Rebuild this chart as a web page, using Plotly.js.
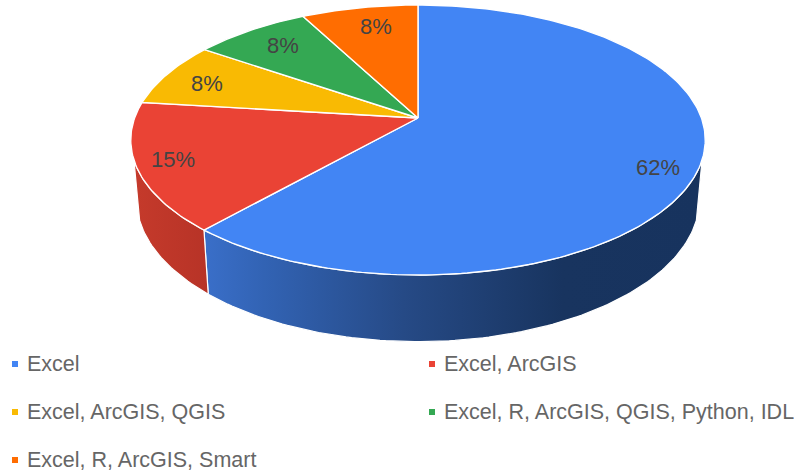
<!DOCTYPE html>
<html>
<head>
<meta charset="utf-8">
<script src="https://cdn.plot.ly/plotly-3.0.1.min.js"></script>
<style>html,body{margin:0;padding:0;background:#fff;overflow:hidden}</style>
</head>
<body>
<div id="chart" style="width:794px;height:472px"></div>
<script>
const categories = ["Excel", "Excel, ArcGIS", "Excel, ArcGIS, QGIS", "Excel, R, ArcGIS, QGIS, Python, IDL", "Excel, R, ArcGIS, Smart"];
const values = [8, 2, 1, 1, 1];
const colors = ["#4285f4", "#ea4335", "#f9ba03", "#34a853", "#ff6d01"];
const sideGradients = {
  0: [[0, "#3a6fc9"], [0.12, "#3263b4"], [0.4, "#264a86"], [0.72, "#18345f"], [1, "#17335e"]],
  1: [[0, "#c53a2b"], [1, "#b73327"]]
};

// Perspective view of the disc: unit circle projected to the page
const view = {cx: 418, apexY: 118, a: 283.4, b: 112.2, p: 0.163};
const base = {scale: 0.98, c: 176};
const sideFrom = 107.7, sideTo = 252.3;
const labelRadius = 0.83;
const labelNudge = [[9, 9], [-14, 1], [-1, 2], [7, 2], [8, 2]];
const legendCols = [15, 432], legendRows = [364, 412, 460], legendGap = 11;

function project(deg, r, plane) {
  const t = deg * Math.PI / 180, u = r * Math.sin(t), v = -r * Math.cos(t);
  const d = 1 - view.p * v;
  if (plane === "base") {
    return [view.cx + base.scale * view.a * u / d, (base.scale * view.b * v + base.c) / d];
  }
  return [view.cx + view.a * u / d, (view.b * v + view.apexY) / d];
}
function arc(a0, a1, plane) {
  const pts = [], n = Math.max(2, Math.ceil(Math.abs(a1 - a0)));
  for (let i = 0; i <= n; i++) pts.push(project(a0 + (a1 - a0) * i / n, 1, plane));
  return pts;
}

const total = values.reduce((s, v) => s + v, 0);
let acc = 0;
const spans = values.map(v => { const s = [acc / total * 360, (acc + v) / total * 360]; acc += v; return s; });

const traces = [];
// side walls first
spans.forEach((s, i) => {
  const a0 = Math.max(s[0], sideFrom), a1 = Math.min(s[1], sideTo);
  if (a1 <= a0) return;
  const pts = arc(a0, a1, "top").concat(arc(a1, a0, "base"));
  pts.push(pts[0]);
  traces.push({
    type: "scatter", mode: "lines", x: pts.map(p => p[0]), y: pts.map(p => p[1]),
    fill: "toself", fillgradient: {type: "horizontal", colorscale: sideGradients[i]},
    line: {color: "#ffffff", width: 1.2}, hoverinfo: "skip", showlegend: false
  });
});
// top faces
spans.forEach((s, i) => {
  const pts = [project(0, 0, "top")].concat(arc(s[0], s[1], "top"));
  pts.push(pts[0]);
  traces.push({
    type: "scatter", mode: "lines", x: pts.map(p => p[0]), y: pts.map(p => p[1]),
    fill: "toself", fillcolor: colors[i], line: {color: "#ffffff", width: 1.4},
    name: categories[i], hoverinfo: "name", showlegend: false
  });
});
// legend swatches
const annotations = [];
categories.forEach((c, i) => {
  const x = legendCols[i % 2], y = legendRows[Math.floor(i / 2)];
  traces.push({
    type: "scatter", mode: "markers", x: [x], y: [y],
    marker: {symbol: "square", size: 6, color: colors[i], line: {width: 0}},
    hoverinfo: "skip", showlegend: false
  });
  annotations.push({
    x: x + legendGap, y: y, xref: "x", yref: "y", text: c, showarrow: false,
    xanchor: "left", yanchor: "middle", borderpad: 0,
    font: {family: "Liberation Sans, Arial, sans-serif", size: 21.5, color: "#666666"}
  });
});
// percentage labels
spans.forEach((s, i) => {
  const p = project((s[0] + s[1]) / 2, labelRadius, "top");
  annotations.push({
    x: p[0] + labelNudge[i][0], y: p[1] + labelNudge[i][1], xref: "x", yref: "y",
    text: Math.round(values[i] / total * 100) + "%", showarrow: false,
    xanchor: "center", yanchor: "middle", borderpad: 0,
    font: {family: "Liberation Sans, Arial, sans-serif", size: 22, color: "#444444"}
  });
});

Plotly.newPlot("chart", traces, {
  width: 794, height: 472,
  margin: {l: 0, r: 0, t: 0, b: 0},
  paper_bgcolor: "#ffffff", plot_bgcolor: "#ffffff",
  showlegend: false,
  xaxis: {range: [0, 794], visible: false, fixedrange: true},
  yaxis: {range: [472, 0], visible: false, fixedrange: true},
  annotations: annotations
}, {displayModeBar: false, staticPlot: true});
</script>
</body>
</html>
